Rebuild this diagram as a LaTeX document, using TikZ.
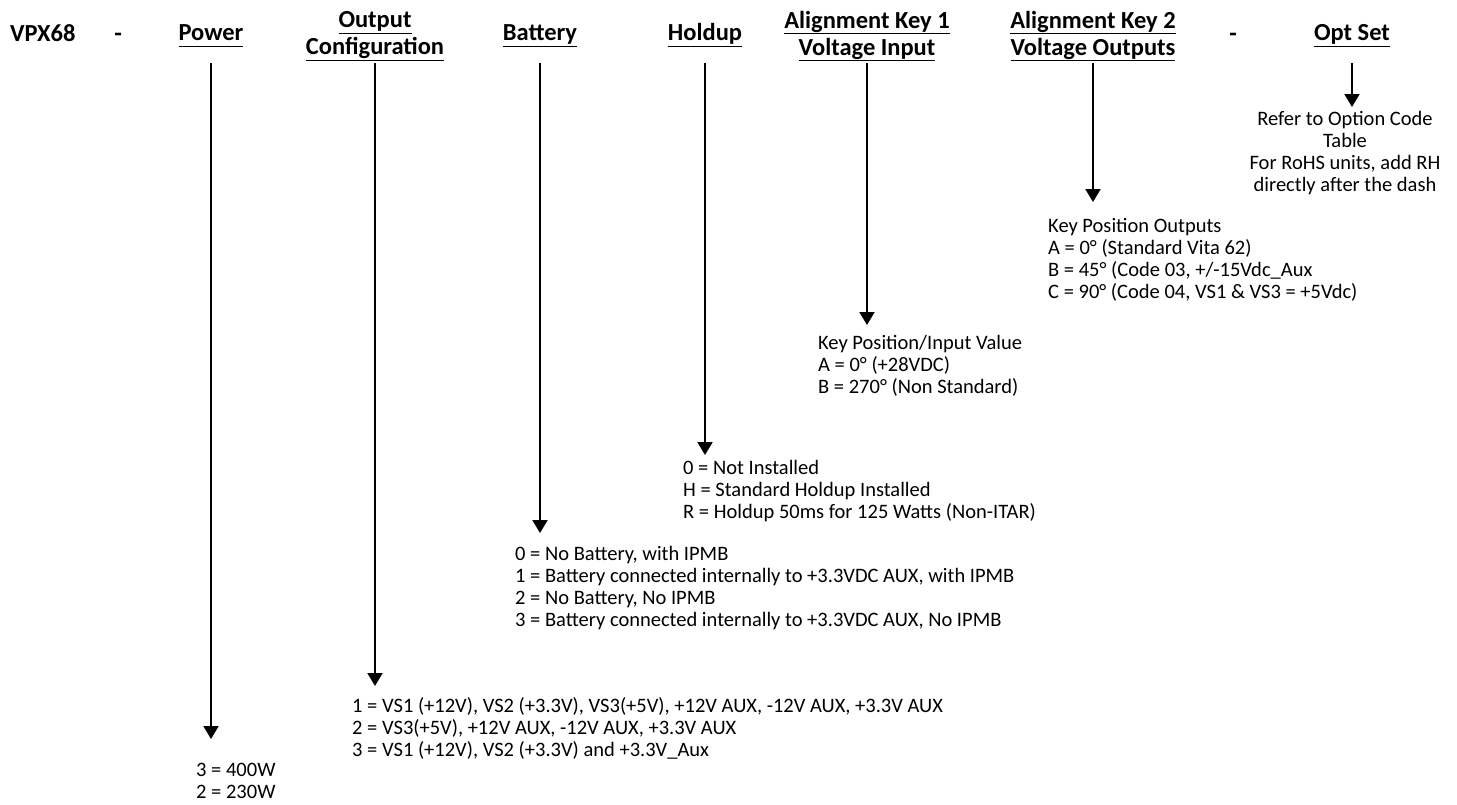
\documentclass[tikz,border=0pt]{standalone}
\usepackage{fontspec}
\setmainfont{Carlito}
\usetikzlibrary{arrows.meta}
\newcommand\hdline[1]{\underline{#1\vphantom{gy}}}

\begin{document}
\begin{tikzpicture}[x=1pt,y=-1pt,
	head/.style={font=\fontsize{24.5}{27}\selectfont\bfseries, align=center, inner sep=0pt},
	opt/.style={font=\fontsize{20.5}{22}\selectfont, align=left, anchor=north west, inner sep=0pt},
	arr/.style={line width=2pt, -{Triangle[width=15pt,length=13pt]}}]
	
	\useasboundingbox (0,0) rectangle (1457,804);
	
	% part number fields
	\node[head, anchor=base west] (vpx) at (10,41) {VPX68};
	\node[head, anchor=base] (dasha) at (118,41) {-};
	\node[head] (pow) at (211,36) {\hdline{Power}};
	\node[head] (cfg) at (375,36) {\hdline{Output}\\\hdline{Configuration}};
	\node[head] (bat) at (540,36) {\hdline{Battery}};
	\node[head] (hold) at (705,35) {\hdline{Holdup}};
	\node[head] (keyone) at (867,36) {\hdline{Alignment Key 1}\\\hdline{Voltage Input}};
	\node[head] (keytwo) at (1093,36) {\hdline{Alignment Key 2}\\\hdline{Voltage Outputs}};
	\node[head, anchor=base] (dashb) at (1233,41) {-};
	\node[head] (optset) at (1352,36) {\hdline{Opt Set}};
	
	% field values
	\node[opt] (powopt) at (196,763) {3 = 400W\\2 = 230W};
	\node[opt] (cfgopt) at (352,697) {1 = VS1 (+12V), VS2 (+3.3V), VS3(+5V), +12V AUX, -12V AUX, +3.3V AUX\\
		2 = VS3(+5V), +12V AUX, -12V AUX, +3.3V AUX\\
		3 = VS1 (+12V), VS2 (+3.3V) and +3.3V\_Aux};
	\node[opt] (batopt) at (515,546) {0 = No Battery, with IPMB\\
		1 = Battery connected internally to +3.3VDC AUX, with IPMB\\
		2 = No Battery, No IPMB\\
		3 = Battery connected internally to +3.3VDC AUX, No IPMB};
	\node[opt] (holdopt) at (683,460) {0 = Not Installed\\
		H = Standard Holdup Installed\\
		R = Holdup 50ms for 125 Watts (Non-ITAR)};
	\node[opt] (keyoneopt) at (818,335) {Key Position/Input Value\\
		A = 0° (+28VDC)\\
		B = 270° (Non Standard)};
	\node[opt] (keytwoopt) at (1048,218) {Key Position Outputs\\
		A = 0° (Standard Vita 62)\\
		B = 45° (Code 03, +/-15Vdc\_Aux\\
		C = 90° (Code 04, VS1 \& VS3 = +5Vdc)};
	\node[opt, anchor=north, align=center] (optsetopt) at (1345,111) {Refer to Option Code\\
		Table\\
		For RoHS units, add RH\\
		directly after the dash};
	
	% arrows: field / tip height
	\foreach \h/\t in {pow/739, cfg/686, bat/533, hold/455, keyone/325, keytwo/202, optset/107} {
		\coordinate (\h top) at (\h.south |- 0,63);
		\coordinate (\h tip) at (\h.south |- 0,\t);
		\draw[arr] (\h top) -- (\h tip);
	}
	
\end{tikzpicture}
\end{document}
